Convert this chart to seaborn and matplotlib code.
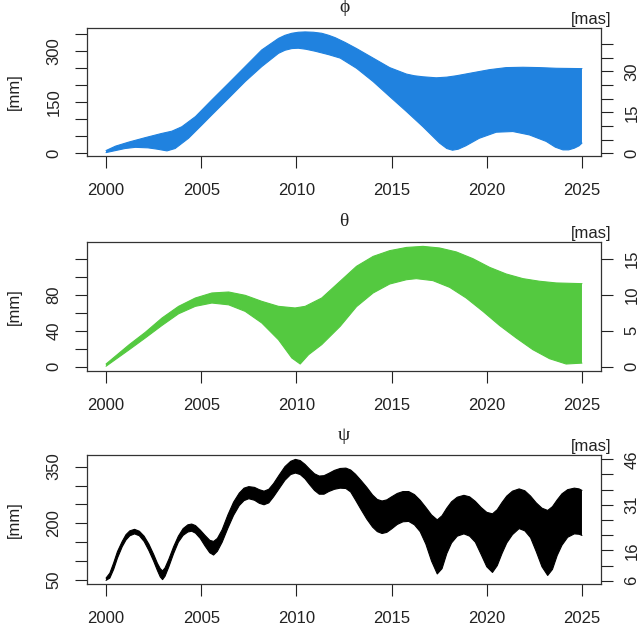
import numpy as np
import matplotlib
matplotlib.use("Agg")
import matplotlib.pyplot as plt
import matplotlib.transforms as mtransforms
import seaborn as sns

sns.set_style("ticks")
plt.rcParams['font.family'] = ['Liberation Sans', 'DejaVu Sans']

# ---------------- phi: upper / lower envelope of the libration signal [mm]
phi_up_year = [2000.0, 2000.5, 2001.2, 2002.06, 2002.9, 2003.46, 2003.98, 2004.7,
               2005.56, 2006.44, 2007.31, 2008.18, 2009.06, 2009.4, 2009.76,
               2010.1, 2010.46, 2010.9, 2011.33, 2011.7, 2012.04, 2012.56,
               2013.16, 2014.03, 2014.9, 2015.78, 2016.2, 2016.65, 2017.35,
               2017.9, 2018.4, 2019.27, 2020.15, 2021.02, 2021.9, 2022.77,
               2023.65, 2025.0]
phi_up = [8, 21, 33, 46, 58, 65, 78, 108, 157, 206, 255, 304, 338, 347, 353,
          356, 357, 356, 353, 347, 340, 326, 308, 280, 252, 233, 228, 225, 222,
          224, 228, 237, 246, 252, 253, 252, 250, 249]
phi_lo_year = [2000.0, 2000.5, 2001.0, 2001.54, 2002.2, 2002.7, 2003.2, 2003.63,
               2004.33, 2005.03, 2005.56, 2006.44, 2007.31, 2008.18, 2009.06,
               2009.4, 2009.76, 2010.1, 2010.5, 2011.0, 2011.7, 2012.3, 2013.16,
               2014.03, 2014.9, 2015.78, 2016.65, 2017.52, 2017.9, 2018.2,
               2018.5, 2018.9, 2019.6, 2020.5, 2021.37, 2022.24, 2023.12, 2023.6,
               2024.0, 2024.3, 2024.6, 2024.85, 2025.0]
phi_lo = [2, 8, 14, 17.5, 16, 12, 7, 14, 44, 83, 113, 162, 211, 255, 294, 303,
          308, 309, 306, 300, 290, 280, 250, 211, 167, 123, 78, 30, 14, 9, 12,
          22, 44, 62, 64, 54, 35, 18, 10, 10, 15, 22, 30]

# ---------------- theta
theta_up_year = [2000.0, 2001.22, 2002.06, 2002.94, 2003.81, 2004.69, 2005.56,
                 2006.44, 2007.31, 2008.18, 2009.06, 2009.93, 2010.46, 2011.33,
                 2012.2, 2013.16, 2014.03, 2014.9, 2015.78, 2016.65, 2017.52,
                 2018.4, 2019.27, 2020.15, 2021.02, 2021.9, 2022.77, 2023.65,
                 2025.0]
theta_up = [3, 24.6, 38.3, 54.3, 67.3, 76.6, 82.2, 83.3, 79.6, 72.9, 67.3, 65.5,
            67.3, 76.6, 93.4, 112, 123, 129.4, 133, 134.2, 132.4, 128, 120.5,
            110.8, 103.4, 98.2, 95.3, 93.4, 92.6]
theta_lo_year = [2000.0, 2001.22, 2002.06, 2002.94, 2003.81, 2004.69, 2005.56,
                 2006.44, 2007.31, 2008.18, 2009.06, 2009.76, 2010.2, 2010.64,
                 2011.33, 2012.3, 2013.16, 2014.03, 2014.9, 2015.78, 2016.3,
                 2017.17, 2018.05, 2018.92, 2019.8, 2020.67, 2021.55, 2022.42,
                 2023.3, 2024.17, 2025.0]
theta_lo = [0.5, 19, 32, 46, 59, 67.3, 71, 69, 61.7, 48.8, 30, 9.7, 3, 13.4, 24.6,
            45, 67, 82.2, 92.2, 97, 98.2, 96, 88.5, 76.6, 61.7, 46, 32, 19, 8.9,
            3, 4]

# ---------------- psi
psi_year = [2000.0, 2000.2, 2000.4, 2000.6, 2000.85, 2001.05, 2001.25, 2001.5,
            2001.75, 2002.0, 2002.25, 2002.5, 2002.7, 2002.85, 2002.97, 2003.1,
            2003.3, 2003.55, 2003.8, 2004.05, 2004.3, 2004.5, 2004.7, 2004.95,
            2005.2, 2005.45, 2005.65, 2005.85, 2006.1, 2006.4, 2006.7, 2007.0,
            2007.25, 2007.5, 2007.8, 2008.05, 2008.3, 2008.55, 2008.8, 2009.1,
            2009.4, 2009.7, 2009.95, 2010.2, 2010.45, 2010.7, 2010.95, 2011.2,
            2011.45, 2011.7, 2012.0, 2012.3, 2012.6, 2012.85, 2013.1, 2013.4,
            2013.7, 2014.0, 2014.25, 2014.5, 2014.75, 2015.0, 2015.3, 2015.6,
            2015.9, 2016.2, 2016.5, 2016.8, 2017.1, 2017.4, 2017.65, 2017.9,
            2018.15, 2018.45, 2018.8, 2019.1, 2019.4, 2019.7, 2020.0, 2020.3,
            2020.55, 2020.8, 2021.05, 2021.35, 2021.7, 2022.0, 2022.3, 2022.6,
            2022.9, 2023.2, 2023.45, 2023.7, 2023.95, 2024.25, 2024.6, 2024.85,
            2025.0]
psi_up = [55, 68, 95, 125, 152, 170, 180, 184, 179, 166, 145, 118, 94, 80, 74,
          82, 105, 138, 166, 186, 196, 198, 194, 182, 168, 155, 152, 160, 183,
          222, 256, 280, 293, 297, 295, 289, 285, 290, 305, 328, 350, 364, 369,
          366, 356, 343, 331, 325, 326, 332, 340, 345, 346, 341, 330, 313, 295,
          275, 263, 259, 262, 270, 279, 284, 284, 276, 261, 242, 222, 209, 220,
          240, 257, 269, 274, 270, 258, 242, 229, 225, 236, 255, 272, 285, 291,
          286, 272, 254, 240, 234, 244, 262, 278, 289, 293, 291, 287]
psi_lo = [49, 55, 78, 108, 138, 156, 167, 172, 167, 152, 128, 100, 75, 58, 51,
          60, 85, 120, 150, 168, 177, 179, 174, 160, 140, 122, 116, 126, 150,
          187, 221, 247, 260, 265, 261, 253, 249, 254, 270, 292, 314, 329, 333,
          329, 318, 302, 287, 277, 277, 284, 290, 293, 292, 283, 262, 236, 211,
          190, 178, 173, 176, 185, 197, 204, 205, 196, 178, 145, 100, 66, 80,
          120, 148, 166, 172, 166, 150, 118, 85, 70, 88, 120, 148, 170, 186,
          180, 162, 125, 85, 62, 78, 115, 142, 163, 172, 171, 168]

x_ticks = [2000, 2005, 2010, 2015, 2020, 2025]
MM_PER_MAS = 8.03

panels = [
    dict(title="\u03d5", color="#2082df",
         yu=phi_up_year, up=phi_up, yl=phi_lo_year, lo=phi_lo,
         ylim=(-8, 368.5), box=(28, 156),
         lticks=[0, 50, 100, 150, 200, 250, 300, 350], llabels=[0, 150, 300],
         rticks=[0, 5, 10, 15, 20, 25, 30, 35, 40], rlabels=[0, 15, 30]),
    dict(title="\u03b8", color="#54c940",
         yu=theta_up_year, up=theta_up, yl=theta_lo_year, lo=theta_lo,
         ylim=(-4.8, 139.4), box=(241.7, 371),
         lticks=[0, 20, 40, 60, 80, 100, 120], llabels=[0, 40, 80],
         rticks=[0, 5, 10, 15], rlabels=[0, 5, 10, 15]),
    dict(title="\u03c8", color="#000000",
         yu=psi_year, up=psi_up, yl=psi_year, lo=psi_lo,
         ylim=(38.6, 380.7), box=(455, 584.3),
         lticks=[50, 100, 150, 200, 250, 300, 350], llabels=[50, 200, 350],
         rticks=[6, 11, 16, 21, 26, 31, 36, 41, 46], rlabels=[6, 16, 31, 46]),
]

W, H = 639, 631
fig = plt.figure(figsize=(W / 100, H / 100), dpi=100)
fig.patch.set_facecolor("white")

tick_kw = dict(direction="out", length=8.5, width=0.8, color="#222222",
               labelsize=12, labelcolor="#222222")

for p in panels:
    top, bot = p["box"]
    ax = fig.add_axes([87 / W, 1 - bot / H, 514 / W, (bot - top) / H])
    c = p["color"]

    xs = np.r_[p["yu"], p["yl"][::-1]]
    ys = np.r_[p["up"], p["lo"][::-1]]
    ax.fill(xs, ys, color=c, lw=0, zorder=2)
    sns.lineplot(x=p["yu"], y=p["up"], color=c, lw=0.8, ax=ax,
                 estimator=None, sort=False, zorder=3)
    sns.lineplot(x=p["yl"], y=p["lo"], color=c, lw=0.8, ax=ax,
                 estimator=None, sort=False, zorder=3)

    ax.set_xlim(1999, 2026)
    ax.set_ylim(*p["ylim"])
    ax.set_xticks(x_ticks)
    ax.set_xticklabels([str(t) for t in x_ticks])
    ax.set_yticks(p["lticks"])
    ax.set_yticklabels([str(t) if t in p["llabels"] else "" for t in p["lticks"]],
                       rotation=90, va="center")
    ax.tick_params(axis="x", pad=11, **tick_kw)
    ax.tick_params(axis="y", pad=10, **tick_kw)
    ax.set_xlabel("")
    ax.set_ylabel("")
    for s in ax.spines.values():
        s.set_visible(True)
        s.set_linewidth(0.9)
        s.set_color("#333333")

    ax2 = ax.twinx()
    ax2.set_ylim(p["ylim"][0] / MM_PER_MAS, p["ylim"][1] / MM_PER_MAS)
    ax2.set_yticks(p["rticks"])
    ax2.set_yticklabels([str(t) if t in p["rlabels"] else "" for t in p["rticks"]],
                        rotation=90, va="center")
    ax2.tick_params(axis="y", pad=8.5, **tick_kw)
    for s in ax2.spines.values():
        s.set_visible(False)

    # panel title and unit captions
    t_off = mtransforms.offset_copy(ax.transAxes, fig=fig, x=0, y=20, units="dots")
    ax.text(0.5, 1.0, p["title"], transform=t_off, ha="center", va="center",
            fontsize=14, family=["Liberation Serif", "DejaVu Serif"], color="#222222")
    m_off = mtransforms.offset_copy(ax.transAxes, fig=fig, x=0, y=1, units="dots")
    ax.text((591 - 87) / 514, 1.0, "[mas]", transform=m_off, ha="center",
            va="bottom", fontsize=12, color="#222222")
    fig.text(14 / W, 1 - (top + bot) / 2 / H, "[mm]", rotation=90, ha="center",
             va="center", fontsize=12, color="#222222")

fig.savefig("out.png", dpi=100, facecolor="white")
